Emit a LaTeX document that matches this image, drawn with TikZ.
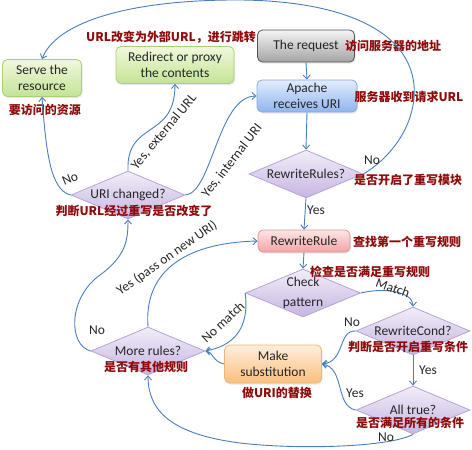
\documentclass[tikz,border=0pt]{standalone}
\usepackage{fontspec}
\setmainfont{Carlito}
\newfontfamily\cjk{Noto Sans CJK SC}
\usetikzlibrary{shapes.geometric,arrows.meta,shadows}
\definecolor{textc}{HTML}{262626}
\definecolor{cnred}{HTML}{8E0B0B}
\definecolor{linec}{HTML}{4A7EBB}
\definecolor{greenT}{HTML}{F1F8DC}
\definecolor{greenB}{HTML}{C4E396}
\definecolor{greenD}{HTML}{A9CF78}
\definecolor{grayT}{HTML}{F4F4F4}
\definecolor{grayB}{HTML}{A4A4A4}
\definecolor{grayD}{HTML}{555555}
\definecolor{blueT}{HTML}{E2EDFC}
\definecolor{blueB}{HTML}{90B4EE}
\definecolor{blueD}{HTML}{86A9DD}
\definecolor{redT}{HTML}{FDE6E6}
\definecolor{redB}{HTML}{F3A3A3}
\definecolor{redD}{HTML}{E39494}
\definecolor{orT}{HTML}{FEEEDC}
\definecolor{orB}{HTML}{FABF7E}
\definecolor{orD}{HTML}{F3B470}
\definecolor{purT}{HTML}{F2EDF8}
\definecolor{purB}{HTML}{C6B5E2}
\definecolor{purD}{HTML}{B7A2D6}
\begin{document}
\begin{tikzpicture}[x=1pt,y=-1pt,
  every node/.style={font=\fontsize{13.5}{16.5}\selectfont, text=textc},
  box/.style={draw, line width=0.8pt, rounded corners=5pt, align=center, inner sep=1pt,
    drop shadow={opacity=0.18,shadow xshift=1pt,shadow yshift=-1.5pt}},
  greenbox/.style={box, draw=greenD, top color=greenT, bottom color=greenB},
  graybox/.style={box, draw=grayD, top color=grayT, bottom color=grayB},
  bluebox/.style={box, draw=blueD, top color=blueT, bottom color=blueB},
  redbox/.style={box, draw=redD, top color=redT, bottom color=redB},
  orbox/.style={box, draw=orD, top color=orT, bottom color=orB},
  dia/.style={diamond, draw=purD, line width=0.8pt, top color=purT, bottom color=purB,
    minimum width=114pt, minimum height=48pt, inner sep=0pt, aspect=2.4, align=center},
  cn/.style={font=\cjk\bfseries\fontsize{12}{14}\selectfont, text=cnred, inner sep=0pt},
  lbl/.style={inner sep=0pt},
  con/.style={draw=linec, line width=0.9pt, -{Straight Barb[length=4pt,width=7pt]}},
]
\useasboundingbox (0,0) rectangle (472,450);

% boxes
\node[greenbox, minimum width=79pt, minimum height=37pt] (serve) at (42,78) {Serve the\\resource};
\node[greenbox, minimum width=118pt, minimum height=37pt] (redir) at (175,65) {Redirect or proxy\\the contents};
\node[graybox, minimum width=97pt, minimum height=32pt] (req) at (306,46) {The request};
\node[bluebox, minimum width=100pt, minimum height=32pt] (apache) at (307,96) {Apache\\receives URI};
\node[redbox, minimum width=92pt, minimum height=22pt] (rrule) at (304,241) {RewriteRule};
\node[orbox, minimum width=97pt, minimum height=38pt] (make) at (273,364) {Make\\substitution};

% diamonds
\node[dia] (rrules) at (306,174) {RewriteRules?};
\node[dia] (check) at (303,293) {Check\\[3pt]pattern};
\node[dia] (cond) at (413,331) {RewriteCond?};
\node[dia] (allt) at (413,410) {All true?};
\node[dia] (more) at (148,351) {More rules?};
\node[dia] (uri) at (128,195) {URI changed?};

% chinese notes
\node[cn] (cn1) at (171,37) {URL改变为外部URL，进行跳转};
\node[cn] (cn2) at (45,110) {要访问的资源};
\node[cn] (cn3) at (393,46) {访问服务器的地址};
\node[cn] (cn4) at (409,97) {服务器收到请求URL};
\node[cn] (cn5) at (408,180) {是否开启了重写模块};
\node[cn] (cn6) at (407,242) {查找第一个重写规则};
\node[cn] (cn7) at (370,272) {检查是否满足重写规则};
\node[cn] (cn8) at (134,211) {判断URL经过重写是否改变了};
\node[cn] (cn9) at (146,367) {是否有其他规则};
\node[cn] (cn10) at (408,347) {判断是否开启重写条件};
\node[cn] (cn11) at (277,393) {做URI的替换};
\node[cn] (cn12) at (410,423) {是否满足所有的条件};

% straight connectors
\draw[con] (req.south) -- (apache.north);
\draw[con] (apache.south) -- (rrules.north);
\draw[con] (rrules.south) -- (rrule.north);
\draw[con] (rrule.south) -- (check.north);
\draw[con] (cond.south) -- (allt.north);

% curved connectors
\draw[con] (rrules.east) .. controls (395,155) and (417,120) .. (414,85)
  .. controls (408,25) and (330,-1) .. (230,0)
  .. controls (120,1) and (55,25) .. (serve.north);
\draw[con] (uri.west) .. controls (50,190) and (46,150) .. (serve.south);
\draw[con] (uri.north) .. controls (126,120) and (175,140) .. (redir.south);
\draw[con] (uri.east) .. controls (212,193) and (218,96) .. (apache.west);
\draw[con] (check.east) .. controls (385,287) and (413,292) .. (cond.north);
\draw[con] (check.west) .. controls (250,330) and (232,346) .. (more.east);
\draw[con] (more.north) .. controls (144,275) and (180,243) .. (rrule.west);
\draw[con] (more.west) .. controls (68,345) and (68,298) .. (100,275)
  .. controls (126,256) and (128,240) .. (uri.south);
\draw[con] (make.west) .. controls (213,362) and (213,352) .. (more.east);
\draw[con] (cond.west) .. controls (338,330) and (345,362) .. (make.east);
\draw[con] (allt.west) .. controls (335,406) and (345,368) .. (make.east);
\draw[con] (allt.south) .. controls (390,447) and (300,450) .. (240,443)
  .. controls (170,434) and (148,410) .. (more.south);

% labels
\node[lbl] (l1) at (372,160) {No};
\node[lbl] (l2) at (316,210) {Yes};
\node[lbl, rotate=22] (l3) at (70,179) {No};
\node[lbl, rotate=50] (l4) at (164,132) {Yes, external URL};
\node[lbl, rotate=52] (l5) at (232,161) {Yes, internal URI};
\node[lbl, rotate=35] (l6) at (167,258) {Yes (pass on new URI)};
\node[lbl, rotate=43] (l7) at (223,322) {No match};
\node[lbl, rotate=-20] (l8) at (393,288) {Match};
\node[lbl] (l9) at (97,330) {No};
\node[lbl] (l10) at (352,322) {No};
\node[lbl] (l11) at (428,370) {Yes};
\node[lbl] (l12) at (355,393) {Yes};
\node[lbl] (l13) at (386,437) {No};
\end{tikzpicture}
\end{document}
